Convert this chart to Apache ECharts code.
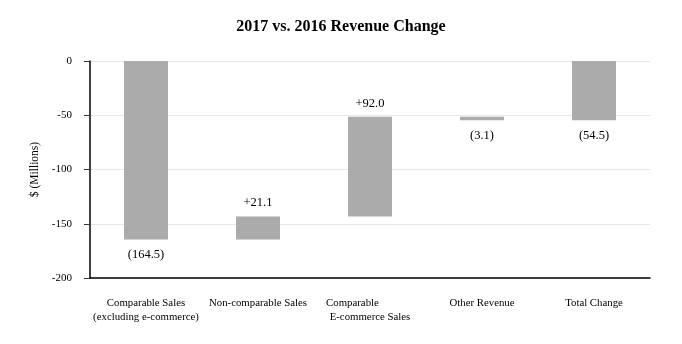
<!DOCTYPE html>
<html><head><meta charset="utf-8">
<script src="https://cdn.jsdelivr.net/npm/echarts@6/dist/echarts.min.js"></script>
<style>html,body{margin:0;padding:0;background:#fff}#c{width:682px;height:344px}</style>
</head><body><div id="c"></div>
<script>
const categories = ['Comparable Sales\n(excluding e-commerce)', 'Non-comparable Sales', 'Comparable\u00a0\u00a0\u00a0\u00a0\u00a0\u00a0\u00a0\u00a0\u00a0\u00a0\u00a0\u00a0\u00a0\nE-commerce Sales', 'Other Revenue', 'Total Change'];
const changes = [-164.5, 21.1, 92.0, -3.1];
const total = -54.5;
const labelsText = ['(164.5)', '+21.1', '+92.0', '(3.1)', '(54.5)'];
const yTicks = [0, -50, -100, -150, -200];

// build waterfall ranges
const base = [], vis = [], pos = [];
let cum = 0;
changes.forEach(d => {
  const a = cum, b = cum + d;
  base.push(Math.max(a, b));
  vis.push(-Math.abs(d));
  pos.push(d >= 0 ? 'top' : 'bottom');
  cum = b;
});
base.push(0); vis.push(total); pos.push('bottom');

const font = 'Liberation Serif';
const chart = echarts.init(document.getElementById('c'), null, {renderer: 'canvas'});
chart.setOption({
  animation: false,
  title: {text: '2017 vs. 2016 Revenue Change', left: 'center', top: 14,
    textStyle: {fontFamily: font, fontSize: 16, fontWeight: 'bold', color: '#000'}},
  grid: {left: 90, right: 32, top: 61, bottom: 66},
  xAxis: {type: 'category', data: categories,
    axisLine: {onZero: false, lineStyle: {color: '#000', width: 1.5}},
    axisTick: {alignWithLabel: true, length: 6, lineStyle: {color: '#333'}},
    axisLabel: {fontFamily: font, fontSize: 10.8, color: '#000', margin: 18, lineHeight: 14, interval: 0}},
  yAxis: {type: 'value', min: -200, max: 0, interval: 50,
    name: '$ (Millions)', nameLocation: 'middle', nameGap: 47, nameRotate: 90,
    nameTextStyle: {fontFamily: font, fontSize: 11.5, color: '#000'},
    axisLine: {show: true, lineStyle: {color: '#000', width: 1.5}},
    axisTick: {show: true, length: 6, lineStyle: {color: '#333'}},
    axisLabel: {fontFamily: font, fontSize: 11, color: '#000', margin: 18},
    splitLine: {lineStyle: {color: '#e6e6e6'}}},
  series: [
    {type: 'bar', stack: 'w', data: base, itemStyle: {color: 'transparent'}, barWidth: 44, silent: true},
    {type: 'bar', stack: 'w', barWidth: 44,
      data: vis.map((v, i) => ({value: v, label: {show: true, position: pos[i], distance: pos[i] === 'top' ? 7 : 9,
        formatter: labelsText[i], fontFamily: font, fontSize: 12.5, color: '#000'}})),
      itemStyle: {color: '#ababab'}}
  ]
});
</script></body></html>
